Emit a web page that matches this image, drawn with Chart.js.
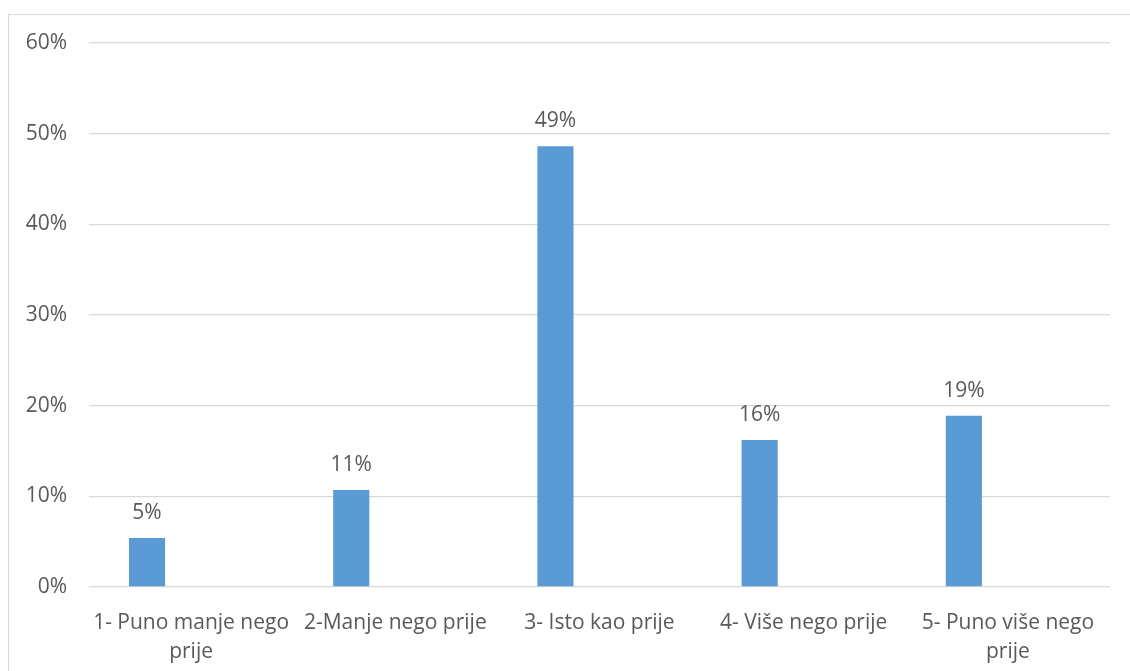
<!DOCTYPE html>
<html>
<head>
<meta charset="utf-8">
<script src="https://cdn.jsdelivr.net/npm/chart.js@4.4.1/dist/chart.umd.min.js"></script>
<style>
    html, body { margin: 0; padding: 0; background: #fff; overflow: hidden; }
    .okvir { position: absolute; left: 8px; top: 14px; width: 1200px; height: 700px; border: 1px solid #d9d9d9; box-sizing: border-box; }
    .grafWrap { position: absolute; left: 0; top: 0; width: 1130px; height: 671px; }
</style>
</head>
<body>
<div class="okvir"></div>
<div class="grafWrap"><canvas class="odgovoriChart"></canvas></div>
<script>
const kategorije = [
    ['1- Puno manje nego', 'prije'],
    '2-Manje nego prije',
    '3- Isto kao prije',
    '4- Više nego prije',
    ['5- Puno više nego', 'prije']
];
const postoci = [5.4, 10.7, 48.6, 16.2, 18.9];
const prazno = [null, null, null, null, null];
const yTicks = [0, 10, 20, 30, 40, 50, 60];

const odgovoriChartDOM = document.querySelector('.odgovoriChart');
const sivaBoja = '#595959';
const fontGraf = { family: '"Open Sans", sans-serif', size: 21 };

// oznake iznad stupaca
const oznakePlugin = {
    id: 'oznake',
    afterDatasetsDraw(chart) {
        const ctx = chart.ctx;
        const meta = chart.getDatasetMeta(0);
        ctx.save();
        ctx.font = `${fontGraf.size}px ${fontGraf.family}`;
        ctx.fillStyle = sivaBoja;
        ctx.textAlign = 'center';
        ctx.textBaseline = 'middle';
        meta.data.forEach((bar, i) => {
            ctx.fillText(Math.round(postoci[i]) + '%', bar.x, bar.y - 25);
        });
        ctx.restore();
    }
};

new Chart(odgovoriChartDOM, {
    type: 'bar',
    data: {
        labels: kategorije,
        datasets: [
            { data: postoci, backgroundColor: '#5b9bd5', categoryPercentage: 0.863, barPercentage: 0.41 },
            { data: prazno, backgroundColor: '#ed7d31', categoryPercentage: 0.863, barPercentage: 0.41 }
        ]
    },
    options: {
        responsive: true,
        maintainAspectRatio: false,
        animation: false,
        layout: { padding: { left: 0, right: 20, top: 43, bottom: 0 } },
        plugins: {
            legend: { display: false },
            tooltip: { enabled: false }
        },
        scales: {
            x: {
                grid: { display: false },
                border: { display: false },
                ticks: { color: sivaBoja, font: { ...fontGraf, lineHeight: 1.35 }, padding: 14, maxRotation: 0, autoSkip: false },
                afterFit: (scale) => { scale.height = 84; }
            },
            y: {
                min: 0,
                max: 60,
                afterBuildTicks: (scale) => { scale.ticks = yTicks.map(v => ({ value: v })); },
                grid: { color: '#d9d9d9', lineWidth: 1.3, drawTicks: false },
                border: { display: false },
                ticks: {
                    color: sivaBoja,
                    font: fontGraf,
                    padding: 22,
                    callback: function (value) { return value + '%'; }
                },
                afterFit: (scale) => { scale.width = 89; }
            }
        }
    },
    plugins: [oznakePlugin]
});
</script>
</body>
</html>
